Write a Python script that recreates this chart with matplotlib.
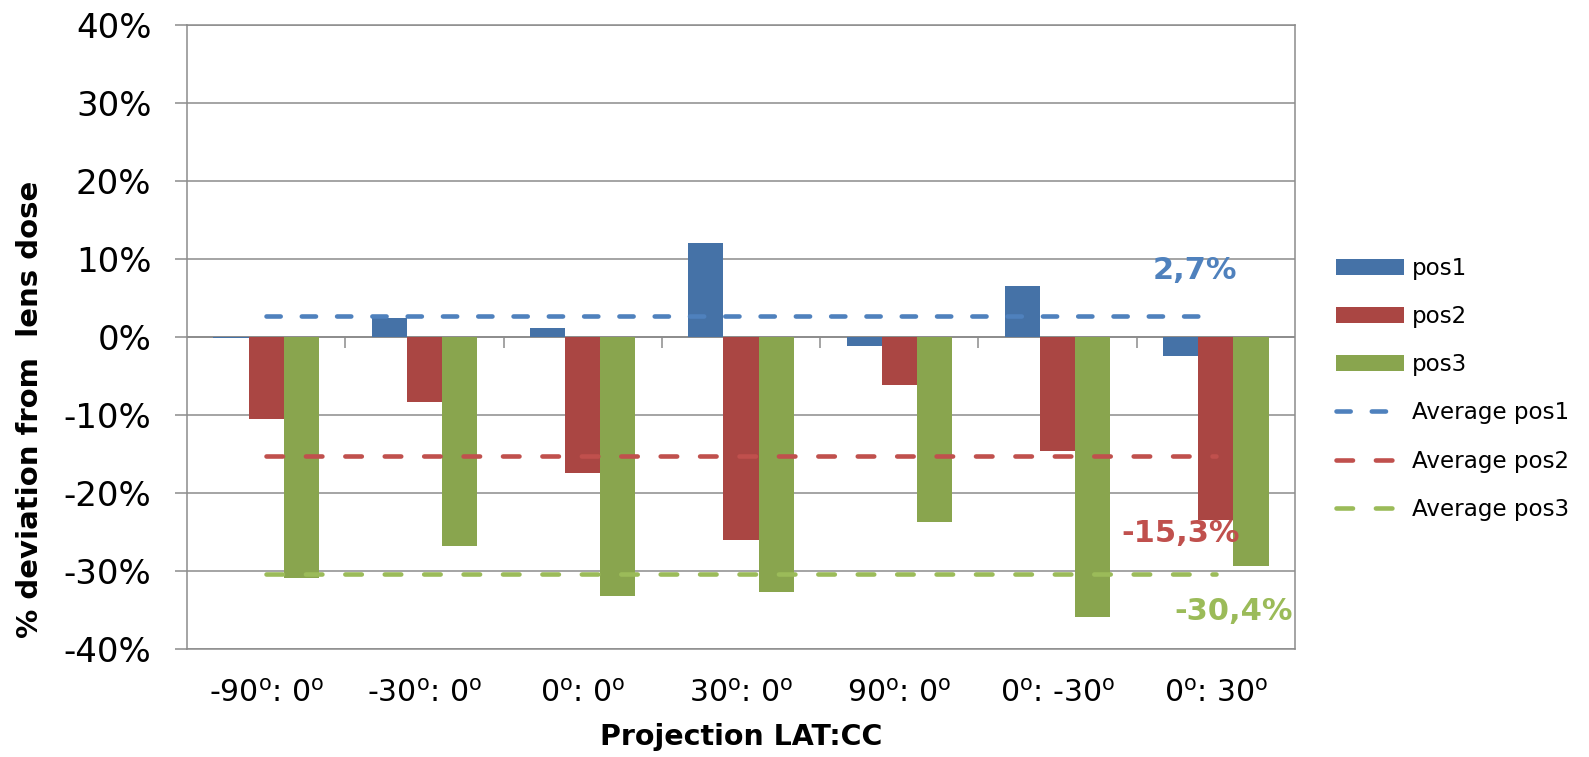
import numpy as np
import matplotlib
matplotlib.use("Agg")
import matplotlib.pyplot as plt
from matplotlib.ticker import FuncFormatter

plt.rcParams['font.family'] = ['DejaVu Sans']

# Projection angles (LAT:CC)
categories = ["-90$^{\\mathregular{o}}$: 0$^{\\mathregular{o}}$",
              "-30$^{\\mathregular{o}}$: 0$^{\\mathregular{o}}$",
              "0$^{\\mathregular{o}}$: 0$^{\\mathregular{o}}$",
              "30$^{\\mathregular{o}}$: 0$^{\\mathregular{o}}$",
              "90$^{\\mathregular{o}}$: 0$^{\\mathregular{o}}$",
              "0$^{\\mathregular{o}}$: -30$^{\\mathregular{o}}$",
              "0$^{\\mathregular{o}}$: 30$^{\\mathregular{o}}$"]

# % deviation from lens dose per dosimeter position
pos1 = [-0.2, 2.4, 1.2, 12.0, -1.2, 6.5, -2.5]
pos2 = [-10.6, -8.4, -17.5, -26.1, -6.2, -14.7, -23.5]
pos3 = [-30.9, -26.8, -33.2, -32.7, -23.8, -36.0, -29.4]

series_names = ["pos1", "pos2", "pos3"]
avg_names = ["Average pos1", "Average pos2", "Average pos3"]
averages = [2.7, -15.3, -30.4]
avg_labels = ["2,7%", "-15,3%", "-30,4%"]

yticks = [-40, -30, -20, -10, 0, 10, 20, 30, 40]

bar_colors = ["#4572A7", "#AA4643", "#89A54E"]
line_colors = ["#4F81BD", "#C0504D", "#9BBB59"]
grid_color = "#8C8C8C"

W, H = 1589, 757
fig = plt.figure(figsize=(W / 100, H / 100), dpi=100)
ax = fig.add_axes([187 / W, 1 - 648.5 / H, (1295 - 187) / W, (648.5 - 25.3) / H])

x = np.arange(len(categories))
bw = 1 / 4.5
bars = []
for i, (vals, col, name) in enumerate(zip([pos1, pos2, pos3], bar_colors, series_names)):
    b = ax.bar(x + (i - 1) * bw, vals, width=bw, color=col, label=name,
               zorder=2, linewidth=0)
    bars.append(b)

# average lines as dashed series across all projections
dash_specs = [(3.1, 4.6), (3.6, 5.0), (3.6, 5.0)]
lines = []
for avg, col, name, ds in zip(averages, line_colors, avg_names, dash_specs):
    ln, = ax.plot(x, [avg] * len(x), color=col, lw=3.3, dashes=ds,
                  dash_capstyle='round', label=name, zorder=3)
    lines.append(ln)

# value labels for the averages
label_offsets = [(5.87, 5.8), (5.78, -9.9), (6.11, -4.9)]
for avg, txt, col, (lx, dy) in zip(averages, avg_labels, line_colors, label_offsets):
    ax.text(lx, avg + dy, txt, color=col, fontsize=22, fontweight='bold',
            ha='center', va='center', zorder=4)

ax.set_xlim(-0.5, len(categories) - 0.5)
ax.set_ylim(-40, 40)
ax.set_yticks(yticks)
ax.yaxis.set_major_formatter(FuncFormatter(lambda v, p: f"{v:.0f}%"))
ax.grid(axis='y', color=grid_color, lw=1.1, zorder=0)
ax.set_axisbelow(True)

# horizontal category axis crosses at zero
ax.axhline(0, color=grid_color, lw=1.3, zorder=1)
ax.vlines(x[:-1] + 0.5, -1.4, 0, color=grid_color, lw=1.1, zorder=1)

ax.set_xticks(x)
ax.set_xticklabels(categories)
ax.tick_params(axis='x', length=0, labelsize=21.5, pad=22)
ax.tick_params(axis='y', length=8.6, width=1.1, color=grid_color,
               labelsize=24.5, pad=17)

for s in ax.spines.values():
    s.set_color(grid_color)
    s.set_linewidth(1.1)

fig.text(741 / W, 1 - 737 / H, "Projection LAT:CC", fontsize=20.5,
         fontweight='bold', ha='center', va='center')
fig.text(30 / W, 1 - 409 / H, "% deviation from  lens dose", fontsize=21,
         fontweight='bold', rotation=90, ha='center', va='center')

fig.legend(handles=bars + lines, labels=series_names + avg_names,
           loc='upper left', bbox_to_anchor=(1336 / W, 1 - 257 / H),
           frameon=False, fontsize=16.6, handlelength=2.95, handleheight=0.66,
           handletextpad=0.33, labelspacing=1.09, borderpad=0,
           borderaxespad=0)

fig.savefig("out.png", dpi=100)
